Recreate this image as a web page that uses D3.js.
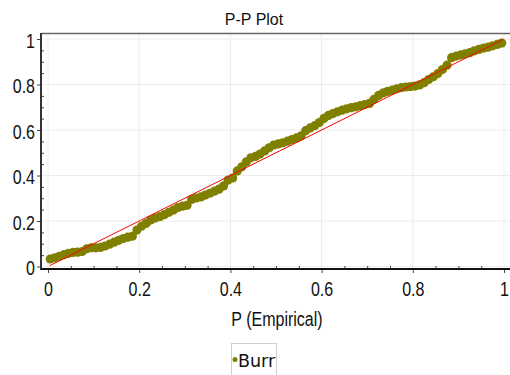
<!DOCTYPE html>
<html>
<head>
<meta charset="utf-8">
<script src="https://cdn.jsdelivr.net/npm/d3@7/dist/d3.min.js"></script>
<style>
  body { margin: 0; background: #fff; }
  svg { display: block; }
</style>
</head>
<body>
<div id="chart"></div>
<script>
// P (Empirical) values of the plotted points
const empirical = [
  0.005, 0.015, 0.025, 0.035, 0.045, 0.055, 0.065, 0.075, 0.085, 0.095,
  0.105, 0.115, 0.125, 0.135, 0.145, 0.155, 0.165, 0.175, 0.185, 0.195,
  0.205, 0.215, 0.225, 0.235, 0.245, 0.255, 0.265, 0.275, 0.285, 0.295,
  0.305, 0.315, 0.325, 0.335, 0.345, 0.355, 0.365, 0.375, 0.385, 0.395,
  0.405, 0.415, 0.425, 0.435, 0.445, 0.455, 0.465, 0.475, 0.485, 0.495,
  0.505, 0.515, 0.525, 0.535, 0.545, 0.555, 0.565, 0.575, 0.585, 0.595,
  0.605, 0.615, 0.625, 0.635, 0.645, 0.655, 0.665, 0.675, 0.685, 0.695,
  0.705, 0.715, 0.725, 0.735, 0.745, 0.755, 0.765, 0.775, 0.785, 0.795,
  0.805, 0.815, 0.825, 0.835, 0.845, 0.855, 0.865, 0.875, 0.885, 0.895,
  0.905, 0.915, 0.925, 0.935, 0.945, 0.955, 0.965, 0.975, 0.985, 0.995
];
// P (Burr) values
const theoretical = [
  0.033, 0.038, 0.045, 0.052, 0.058, 0.062, 0.063, 0.066, 0.078, 0.082,
  0.082, 0.084, 0.090, 0.098, 0.107, 0.115, 0.123, 0.129, 0.133, 0.160,
  0.177, 0.189, 0.204, 0.213, 0.219, 0.228, 0.238, 0.248, 0.259, 0.265,
  0.269, 0.295, 0.301, 0.306, 0.314, 0.322, 0.331, 0.340, 0.354, 0.380,
  0.389, 0.420, 0.438, 0.460, 0.478, 0.484, 0.494, 0.508, 0.522, 0.534,
  0.539, 0.544, 0.551, 0.558, 0.565, 0.574, 0.597, 0.609, 0.619, 0.633,
  0.651, 0.664, 0.672, 0.680, 0.687, 0.693, 0.698, 0.702, 0.707, 0.712,
  0.717, 0.735, 0.752, 0.763, 0.770, 0.775, 0.781, 0.786, 0.789, 0.791,
  0.793, 0.798, 0.808, 0.822, 0.834, 0.848, 0.866, 0.885, 0.918, 0.925,
  0.930, 0.935, 0.940, 0.948, 0.954, 0.960, 0.964, 0.970, 0.976, 0.982
];
// ends of the red reference line (y = x)
const refLine = [0.004, 0.998];

const majorTicks = [0, 0.2, 0.4, 0.6, 0.8, 1];
const tickLabels = ["0", "0.2", "0.4", "0.6", "0.8", "1"];
const minorTicks = [0.05, 0.1, 0.15, 0.25, 0.3, 0.35, 0.45, 0.5, 0.55, 0.65, 0.7, 0.75, 0.85, 0.9, 0.95];

const titleText = "P-P Plot";
const xLabelText = "P (Empirical)";
const seriesName = "Burr";

const width = 510, height = 375;
const frame = { left: 41, right: 510, top: 33.5, bottom: 269 };
const sans = "'Liberation Sans', Arial, sans-serif";
const squeeze = 0.8; // the reference uses a narrow face
const olive = "#808000";

const svg = d3.select("#chart").append("svg")
    .attr("width", width)
    .attr("height", height);

const x = d3.scaleLinear().domain([0, 1]).range([48, 504]);
const y = d3.scaleLinear().domain([0, 1]).range([266.5, 39]);

// gridlines
const grid = svg.append("g").attr("class", "grid");
grid.selectAll(".gx")
    .data(majorTicks)
    .enter().append("line")
    .attr("class", "gx")
    .attr("x1", d => x(d)).attr("x2", d => x(d))
    .attr("y1", frame.top).attr("y2", frame.bottom)
    .attr("stroke", "#ececec");
grid.selectAll(".gy")
    .data(majorTicks)
    .enter().append("line")
    .attr("class", "gy")
    .attr("x1", frame.left).attr("x2", frame.right)
    .attr("y1", d => y(d)).attr("y2", d => y(d))
    .attr("stroke", "#ececec");

// top border
svg.append("line")
    .attr("x1", frame.left).attr("x2", frame.right)
    .attr("y1", frame.top).attr("y2", frame.top)
    .attr("stroke", "#666")
    .attr("stroke-width", 1.5);

// points
const points = empirical.map((e, i) => ({ e: e, t: theoretical[i] }));
svg.append("g").selectAll("circle")
    .data(points)
    .enter().append("circle")
    .attr("cx", d => x(d.e))
    .attr("cy", d => y(d.t))
    .attr("r", 4.6)
    .attr("fill", olive);

// y = x reference
svg.append("line")
    .attr("x1", x(refLine[0])).attr("y1", y(refLine[0]))
    .attr("x2", x(refLine[1])).attr("y2", y(refLine[1]))
    .attr("stroke", "#ff0000")
    .attr("stroke-width", 1);

// x axis
const xAxis = svg.append("g")
    .attr("transform", `translate(0, ${frame.bottom})`)
    .call(d3.axisBottom(x).tickValues(majorTicks).tickSize(4).tickPadding(9)
        .tickFormat((d, i) => tickLabels[i]));
svg.append("g")
    .attr("transform", `translate(0, ${frame.bottom})`)
    .call(d3.axisBottom(x).tickValues(minorTicks).tickSize(-3).tickFormat(""));

// y axis
const yAxis = svg.append("g")
    .attr("transform", `translate(${frame.left}, 0)`)
    .call(d3.axisLeft(y).tickValues(majorTicks).tickSize(4).tickPadding(2)
        .tickFormat((d, i) => tickLabels[i]));
svg.append("g")
    .attr("transform", `translate(${frame.left}, 0)`)
    .call(d3.axisLeft(y).tickValues(minorTicks).tickSize(-3).tickFormat(""));

svg.selectAll(".domain").remove();
svg.selectAll(".tick line").attr("stroke", "#444");
svg.selectAll(".tick text")
    .style("font-family", sans)
    .style("font-size", "20px")
    .attr("fill", "#111")
    .attr("transform", `scale(${squeeze},1)`);
yAxis.selectAll(".tick text")
    .attr("x", -6 / squeeze)
    .attr("dy", "0.4em");

// axis lines
svg.append("line")
    .attr("x1", frame.left).attr("x2", frame.left)
    .attr("y1", frame.top - 0.5).attr("y2", frame.bottom + 1)
    .attr("stroke", "#333")
    .attr("stroke-width", 2);
svg.append("line")
    .attr("x1", frame.left).attr("x2", frame.right)
    .attr("y1", frame.bottom).attr("y2", frame.bottom)
    .attr("stroke", "#111")
    .attr("stroke-width", 2);

// title
svg.append("text")
    .attr("x", 254)
    .attr("y", 25)
    .attr("text-anchor", "middle")
    .style("font-family", sans)
    .style("font-size", "16px")
    .attr("fill", "#111")
    .text(titleText);

// x label
svg.append("text")
    .attr("transform", `translate(277, 325.5) scale(${squeeze},1)`)
    .attr("text-anchor", "middle")
    .style("font-family", sans)
    .style("font-size", "20px")
    .attr("fill", "#111")
    .text(xLabelText);

// legend
const legend = svg.append("g").attr("class", "legend");
legend.append("rect")
    .attr("x", 231.5).attr("y", 343.5)
    .attr("width", 45).attr("height", 40)
    .attr("fill", "#fff")
    .attr("stroke", "#cfcfcf");
legend.append("circle")
    .attr("cx", 235).attr("cy", 359.5)
    .attr("r", 2.5)
    .attr("fill", olive);
legend.append("text")
    .attr("x", 238)
    .attr("y", 366.5)
    .style("font-family", "'DejaVu Sans', sans-serif")
    .style("font-size", "17.5px")
    .attr("fill", "#111")
    .text(seriesName);
</script>
</body>
</html>
